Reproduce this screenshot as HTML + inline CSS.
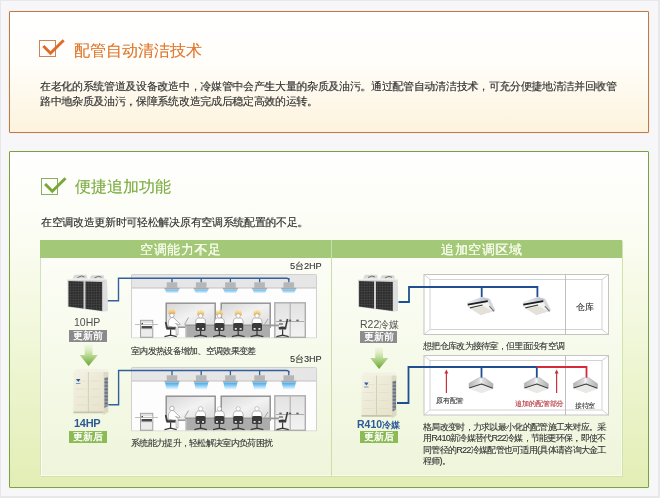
<!DOCTYPE html>
<html><head><meta charset="utf-8">
<style>
*{margin:0;padding:0;box-sizing:border-box}
html,body{width:660px;height:498px;overflow:hidden}
body{position:relative;background:#e8e8ea;font-family:"Liberation Sans",sans-serif;color:#444}
.abs{position:absolute}
#page{position:absolute;left:1px;top:1px;width:657px;height:495px;background:#f7f7f9}
#box1{position:absolute;left:9px;top:11px;width:640px;height:122px;border:1px solid #b47c5a;border-radius:1px;
 background:linear-gradient(#fff 0%,#fffefa 40%,#fdf3dd 100%);box-shadow:0 0 0 1px #fdf0d8}
#box2{position:absolute;left:9px;top:151px;width:640px;height:337px;border:1px solid #7d9c5c;border-radius:1px;
 background:linear-gradient(#fff 0%,#fbfdf3 25%,#e2eeb4 100%);box-shadow:0 0 0 1px #f2fcd8}
.t{position:absolute;white-space:nowrap;line-height:1;will-change:transform}
.title1{left:74px;top:42.8px;font-size:16px;color:#e07a32;text-shadow:0.3px 0 0 rgba(224,122,50,0.5)}
.title2{left:75.3px;top:179.3px;font-size:16px;color:#80b048;text-shadow:0.3px 0 0 rgba(128,176,72,0.5)}
.p{font-size:11px;letter-spacing:-0.32px;color:#3a3a3a;text-shadow:0.3px 0 0 rgba(58,58,58,0.6)}
.s{font-size:9px;letter-spacing:-0.7px;color:#3c3c3c;text-shadow:0.25px 0 0 rgba(60,60,60,0.5)}
#panel{position:absolute;left:40px;top:240px;width:582px;height:236px;border-left:1px solid #d4e0c4;border-right:1px solid #f6fde8;border-bottom:1px solid #f6fde8;box-shadow:1px 1px 0 #d2e2ae, inset 1px 0 0 #f8fff0;
 background:linear-gradient(#fdfef9 0%,#f6faea 50%,#eef5da 100%)}
#hdr{position:absolute;left:40px;top:240px;width:582px;height:18px;background:#a2c878}
#div{position:absolute;left:331px;top:240px;width:1px;height:236px;background:#c9dea8}
.ht{will-change:transform;position:absolute;top:241.5px;font-size:13px;letter-spacing:0.55px;color:#f8fcec;line-height:16px;white-space:nowrap;text-shadow:0.4px 0 0 #f8fcec}
.tag{will-change:transform;position:absolute;height:11.5px;font-size:10px;line-height:11.5px;text-shadow:0.2px 0 0 #fff;color:#fff;text-align:center;white-space:nowrap}
.hp{position:absolute;font-size:10px;line-height:1;white-space:nowrap}
</style></head><body>
<div id="page"></div>
<div id="box1"></div>
<div id="box2"></div>

<svg class="abs" style="left:0;top:0" width="660" height="498">
 <rect x="39.5" y="40.5" width="16" height="16" fill="none" stroke="#cc8458" stroke-width="1"/>
 <path d="M43.3 46 L50.5 53.2 L63.7 40.3" fill="none" stroke="#e06a28" stroke-width="3"/>
 <rect x="41.5" y="178.5" width="16" height="16" fill="none" stroke="#8cae62" stroke-width="1"/>
 <path d="M45.1 184 L52.3 191.2 L65.5 178.3" fill="none" stroke="#78a838" stroke-width="3"/>
</svg>

<div class="t title1">配管自动清洁技术</div>
<div class="t p" style="left:40px;top:81px">在老化的系统管道及设备改造中，冷媒管中会产生大量的杂质及油污。通过配管自动清洁技术，可充分便捷地清洁并回收管</div>
<div class="t p" style="left:40px;top:95.5px">路中地杂质及油污，保障系统改造完成后稳定高效的运转。</div>

<div class="t title2">便捷追加功能</div>
<div class="t p" style="left:41px;top:217px">在空调改造更新时可轻松解决原有空调系统配置的不足。</div>

<div id="panel"></div>
<div id="hdr"></div>
<div id="div"></div>
<div class="ht" style="left:140px">空调能力不足</div>
<div class="ht" style="left:441px">追加空调区域</div>

<svg class="abs" style="left:0;top:0" width="660" height="498">
<defs>
<linearGradient id="glowS" x1="0" y1="0" x2="0" y2="1"><stop offset="0" stop-color="#5ab4ec"/><stop offset="1" stop-color="#dff2fd"/></linearGradient>
<linearGradient id="glowB" x1="0" y1="0" x2="0" y2="1"><stop offset="0" stop-color="#3aa6ea"/><stop offset="1" stop-color="#f0f9ff"/></linearGradient>
<linearGradient id="heat" x1="0" y1="0" x2="0" y2="1"><stop offset="0" stop-color="#fbeab8" stop-opacity="0.4"/><stop offset="0.5" stop-color="#f7d488"/><stop offset="1" stop-color="#f0ac50"/></linearGradient>
<linearGradient id="glass" x1="0" y1="0" x2="1" y2="1"><stop offset="0" stop-color="#d6d6d6"/><stop offset="0.5" stop-color="#f2f2f2"/><stop offset="1" stop-color="#d9d9d9"/></linearGradient>
<linearGradient id="glass2" x1="0" y1="0" x2="0" y2="1"><stop offset="0" stop-color="#e2e2e2"/><stop offset="1" stop-color="#f3f3f3"/></linearGradient>
<linearGradient id="arr" x1="0" y1="0" x2="0" y2="1"><stop offset="0" stop-color="#e4f0cc" stop-opacity="0.3"/><stop offset="0.5" stop-color="#b8d890"/><stop offset="1" stop-color="#6aa632"/></linearGradient>
<pattern id="mesh" width="2.6" height="2.6" patternUnits="userSpaceOnUse"><rect width="2.6" height="2.6" fill="#2c2c2c"/><rect width="2.6" height="0.6" fill="#474747"/><rect width="0.6" height="2.6" fill="#474747"/></pattern>
<pattern id="vent" width="3" height="1.4" patternUnits="userSpaceOnUse"><rect width="3" height="1.4" fill="#9aa0aa"/><rect width="3" height="0.6" fill="#5a6272"/></pattern>
<linearGradient id="cbody" x1="0" y1="0" x2="1" y2="0"><stop offset="0" stop-color="#eef1f6"/><stop offset="1" stop-color="#b4bccb"/></linearGradient>
<linearGradient id="c2body" x1="0" y1="0" x2="1" y2="0"><stop offset="0" stop-color="#b4b4b4"/><stop offset="0.42" stop-color="#dcdcdc"/><stop offset="0.5" stop-color="#f6f8fb"/><stop offset="0.58" stop-color="#dcdcdc"/><stop offset="1" stop-color="#b0b0b0"/></linearGradient>
<linearGradient id="beige" x1="0" y1="0" x2="1" y2="1"><stop offset="0" stop-color="#f3f1e2"/><stop offset="1" stop-color="#e6e2cc"/></linearGradient>
<filter id="soft" x="-50%" y="-50%" width="200%" height="200%"><feGaussianBlur stdDeviation="0.35"/></filter>
<linearGradient id="grill" x1="0" y1="0" x2="1" y2="1"><stop offset="0" stop-color="#e6e6e0"/><stop offset="1" stop-color="#d2d2ca"/></linearGradient>
</defs>
<rect x="131" y="274" width="186" height="64" fill="#fdfdfd"/>
<rect x="131" y="274.5" width="185.5" height="13.5" fill="#e6e6e6"/>
<line x1="131" y1="288" x2="316.5" y2="288" stroke="#c2c2c2" stroke-width="1"/>
<path d="M131.5 338 V275 Q131.5 274.5 132.5 274.5 H315.5 Q316.5 274.5 316.5 275.5 V338" fill="none" stroke="#d0d0d0" stroke-width="1"/>
<line x1="131" y1="337.8" x2="317" y2="337.8" stroke="#dcdcdc" stroke-width="1"/>
<line x1="172" y1="278" x2="172" y2="282.5" stroke="#33609a" stroke-width="1.3"/>
<rect x="166.7" y="282.3" width="10.6" height="5.6" fill="#b6b6b6"/>
<rect x="164.5" y="287.8" width="15" height="1.6" fill="#a6aaae"/>
<path d="M165 289.4 H179 L177.5 293 H166.5 Z" fill="url(#glowS)"/>
<line x1="201.2" y1="278" x2="201.2" y2="282.5" stroke="#33609a" stroke-width="1.3"/>
<rect x="195.89999999999998" y="282.3" width="10.6" height="5.6" fill="#b6b6b6"/>
<rect x="193.7" y="287.8" width="15" height="1.6" fill="#a6aaae"/>
<path d="M194.2 289.4 H208.2 L206.7 293 H195.7 Z" fill="url(#glowS)"/>
<line x1="230.4" y1="278" x2="230.4" y2="282.5" stroke="#33609a" stroke-width="1.3"/>
<rect x="225.1" y="282.3" width="10.6" height="5.6" fill="#b6b6b6"/>
<rect x="222.9" y="287.8" width="15" height="1.6" fill="#a6aaae"/>
<path d="M223.4 289.4 H237.4 L235.9 293 H224.9 Z" fill="url(#glowS)"/>
<line x1="259.6" y1="278" x2="259.6" y2="282.5" stroke="#33609a" stroke-width="1.3"/>
<rect x="254.3" y="282.3" width="10.6" height="5.6" fill="#b6b6b6"/>
<rect x="252.10000000000002" y="287.8" width="15" height="1.6" fill="#a6aaae"/>
<path d="M252.60000000000002 289.4 H266.6 L265.1 293 H254.10000000000002 Z" fill="url(#glowS)"/>
<line x1="288.8" y1="278" x2="288.8" y2="282.5" stroke="#33609a" stroke-width="1.3"/>
<rect x="283.5" y="282.3" width="10.6" height="5.6" fill="#b6b6b6"/>
<rect x="281.3" y="287.8" width="15" height="1.6" fill="#a6aaae"/>
<path d="M281.8 289.4 H295.8 L294.3 293 H283.3 Z" fill="url(#glowS)"/>
<rect x="166.2" y="303.2" width="49" height="24" fill="url(#glass)" stroke="#8e8e8e" stroke-width="1.4"/>
<rect x="221.2" y="303.2" width="49" height="24" fill="url(#glass)" stroke="#8e8e8e" stroke-width="1.4"/>
<rect x="274.8" y="302.8" width="30.5" height="34.5" fill="url(#glass2)" stroke="#adadad" stroke-width="1.4"/>
<line x1="290.2" y1="302.8" x2="290.2" y2="337.3" stroke="#b4b4b4" stroke-width="1.2"/>
<line x1="276" y1="321.5" x2="304" y2="321.5" stroke="#9a9a9a" stroke-width="0.8"/>
<rect x="279.3" y="319.6" width="2.4" height="1.6" fill="#666"/>
<rect x="288.8" y="319.6" width="2.4" height="1.6" fill="#666"/>
<rect x="296.3" y="319.6" width="2.4" height="1.6" fill="#666"/>
<rect x="185" y="324.5" width="94" height="1.8" fill="#9a9a9a"/>
<rect x="185.5" y="326.3" width="84.5" height="11" fill="#acacac"/>
<rect x="185.5" y="326.3" width="1" height="11" fill="#c8c8c8"/>
<path d="M184.5 324.5 L188.5 317.5" stroke="#9a9a9a" stroke-width="0.9"/>
<path d="M264.5 324.5 L268 319" stroke="#9a9a9a" stroke-width="0.9"/>
<rect x="140.5" y="320.3" width="12.3" height="17" fill="#e2e2e2" stroke="#9c9c9c" stroke-width="0.9"/>
<rect x="141" y="323" width="11.3" height="5" fill="#fafafa"/>
<rect x="141.5" y="326" width="10.5" height="2.5" fill="#4a4a4a"/>
<rect x="141.5" y="323" width="1.5" height="2" fill="#4a4a4a"/>
<line x1="135" y1="324.5" x2="158" y2="324.5" stroke="#b0b0b0" stroke-width="0.8"/>
<rect x="141.5" y="330" width="10.3" height="6" fill="#ececec"/>
<path d="M168.60000000000002 314.0 Q168.10000000000002 310.5 169.4 307.3 Q169.9 309.0 170.60000000000002 310.0 Q171.10000000000002 312.0 170.8 314.0 Z" fill="url(#heat)" filter="url(#soft)"/>
<path d="M170.8 314.0 Q170.3 310.5 171.6 306.5 Q172.1 309.0 172.8 310.0 Q173.3 312.0 173.0 314.0 Z" fill="url(#heat)" filter="url(#soft)"/>
<path d="M173.0 314.0 Q172.5 310.5 173.79999999999998 307.1 Q174.29999999999998 309.0 175.0 310.0 Q175.5 312.0 175.2 314.0 Z" fill="url(#heat)" filter="url(#soft)"/>
<path d="M171 317.5 Q167.5 320 168 326 L173 327 L176 327 L176.3 335 L178 335 L178 325.5 L175.5 323.5 L180 324.8 L180 323.8 L174.8 319 Q173.8 317.5 173 317.5 Z" fill="#fff" stroke="#8c8c8c" stroke-width="0.6"/>
<circle cx="171.9" cy="315.4" r="2.2" fill="#fff" stroke="#8c8c8c" stroke-width="0.6"/>
<path d="M165.6 322 L167.4 329" stroke="#3a3a3a" stroke-width="1.6"/>
<rect x="166.5" y="327.3" width="9" height="2.3" fill="#3a3a3a"/>
<rect x="170" y="329.5" width="1.2" height="6" fill="#3a3a3a"/>
<path d="M164.5 336.6 L170.6 335.2 L176.7 336.6" fill="none" stroke="#3a3a3a" stroke-width="1.2"/>
<path d="M197.3 315.5 Q196.8 312 198.1 308.8 Q198.6 310.5 199.3 311.5 Q199.8 313.5 199.5 315.5 Z" fill="url(#heat)" filter="url(#soft)"/>
<path d="M199.5 315.5 Q199.0 312 200.29999999999998 308 Q200.79999999999998 310.5 201.5 311.5 Q202.0 313.5 201.7 315.5 Z" fill="url(#heat)" filter="url(#soft)"/>
<path d="M201.7 315.5 Q201.2 312 202.49999999999997 308.6 Q202.99999999999997 310.5 203.7 311.5 Q204.2 313.5 203.89999999999998 315.5 Z" fill="url(#heat)" filter="url(#soft)"/>
<path d="M195.6 324 Q195.4 318.4 198.4 318 H202.79999999999998 Q205.79999999999998 318.4 205.6 324 Z" fill="#fff" stroke="#8c8c8c" stroke-width="0.6"/>
<circle cx="200.6" cy="315.8" r="2.1" fill="#fff" stroke="#9a9a9a" stroke-width="0.5"/>
<rect x="195.6" y="323" width="10" height="8" rx="1.6" fill="#3a3a3a"/>
<rect x="197.2" y="328" width="2" height="1.7" fill="#e4e4e4"/>
<rect x="202.0" y="328" width="2" height="1.7" fill="#e4e4e4"/>
<rect x="200.0" y="331" width="1.2" height="4.6" fill="#3a3a3a"/>
<path d="M194.29999999999998 336.6 L200.6 335.2 L206.9 336.6" fill="none" stroke="#3a3a3a" stroke-width="1.2"/>
<path d="M216.10000000000002 315.5 Q215.60000000000002 312 216.9 308.8 Q217.4 310.5 218.10000000000002 311.5 Q218.60000000000002 313.5 218.3 315.5 Z" fill="url(#heat)" filter="url(#soft)"/>
<path d="M218.3 315.5 Q217.8 312 219.1 308 Q219.6 310.5 220.3 311.5 Q220.8 313.5 220.5 315.5 Z" fill="url(#heat)" filter="url(#soft)"/>
<path d="M220.5 315.5 Q220.0 312 221.29999999999998 308.6 Q221.79999999999998 310.5 222.5 311.5 Q223.0 313.5 222.7 315.5 Z" fill="url(#heat)" filter="url(#soft)"/>
<path d="M214.4 324 Q214.20000000000002 318.4 217.20000000000002 318 H221.6 Q224.6 318.4 224.4 324 Z" fill="#fff" stroke="#8c8c8c" stroke-width="0.6"/>
<circle cx="219.4" cy="315.8" r="2.1" fill="#fff" stroke="#9a9a9a" stroke-width="0.5"/>
<rect x="214.4" y="323" width="10" height="8" rx="1.6" fill="#3a3a3a"/>
<rect x="216.0" y="328" width="2" height="1.7" fill="#e4e4e4"/>
<rect x="220.8" y="328" width="2" height="1.7" fill="#e4e4e4"/>
<rect x="218.8" y="331" width="1.2" height="4.6" fill="#3a3a3a"/>
<path d="M213.1 336.6 L219.4 335.2 L225.70000000000002 336.6" fill="none" stroke="#3a3a3a" stroke-width="1.2"/>
<path d="M234.9 315.5 Q234.4 312 235.7 308.8 Q236.2 310.5 236.9 311.5 Q237.4 313.5 237.1 315.5 Z" fill="url(#heat)" filter="url(#soft)"/>
<path d="M237.1 315.5 Q236.6 312 237.89999999999998 308 Q238.39999999999998 310.5 239.1 311.5 Q239.6 313.5 239.29999999999998 315.5 Z" fill="url(#heat)" filter="url(#soft)"/>
<path d="M239.29999999999998 315.5 Q238.79999999999998 312 240.09999999999997 308.6 Q240.59999999999997 310.5 241.29999999999998 311.5 Q241.79999999999998 313.5 241.49999999999997 315.5 Z" fill="url(#heat)" filter="url(#soft)"/>
<path d="M233.2 324 Q233.0 318.4 236.0 318 H240.39999999999998 Q243.39999999999998 318.4 243.2 324 Z" fill="#fff" stroke="#8c8c8c" stroke-width="0.6"/>
<circle cx="238.2" cy="315.8" r="2.1" fill="#fff" stroke="#9a9a9a" stroke-width="0.5"/>
<rect x="233.2" y="323" width="10" height="8" rx="1.6" fill="#3a3a3a"/>
<rect x="234.79999999999998" y="328" width="2" height="1.7" fill="#e4e4e4"/>
<rect x="239.6" y="328" width="2" height="1.7" fill="#e4e4e4"/>
<rect x="237.6" y="331" width="1.2" height="4.6" fill="#3a3a3a"/>
<path d="M231.89999999999998 336.6 L238.2 335.2 L244.5 336.6" fill="none" stroke="#3a3a3a" stroke-width="1.2"/>
<path d="M253.70000000000002 315.5 Q253.20000000000002 312 254.5 308.8 Q255.0 310.5 255.70000000000002 311.5 Q256.2 313.5 255.9 315.5 Z" fill="url(#heat)" filter="url(#soft)"/>
<path d="M255.9 315.5 Q255.4 312 256.7 308 Q257.2 310.5 257.9 311.5 Q258.4 313.5 258.1 315.5 Z" fill="url(#heat)" filter="url(#soft)"/>
<path d="M258.09999999999997 315.5 Q257.59999999999997 312 258.9 308.6 Q259.4 310.5 260.09999999999997 311.5 Q260.59999999999997 313.5 260.3 315.5 Z" fill="url(#heat)" filter="url(#soft)"/>
<path d="M252 324 Q251.8 318.4 254.8 318 H259.2 Q262.2 318.4 262 324 Z" fill="#fff" stroke="#8c8c8c" stroke-width="0.6"/>
<circle cx="257" cy="315.8" r="2.1" fill="#fff" stroke="#9a9a9a" stroke-width="0.5"/>
<rect x="252" y="323" width="10" height="8" rx="1.6" fill="#3a3a3a"/>
<rect x="253.6" y="328" width="2" height="1.7" fill="#e4e4e4"/>
<rect x="258.4" y="328" width="2" height="1.7" fill="#e4e4e4"/>
<rect x="256.4" y="331" width="1.2" height="4.6" fill="#3a3a3a"/>
<path d="M250.7 336.6 L257 335.2 L263.3 336.6" fill="none" stroke="#3a3a3a" stroke-width="1.2"/>
<path d="M287.5 319 L285.6 327.5" stroke="#3a3a3a" stroke-width="1.5"/>
<path d="M278.5 327.2 Q283 325.5 286.5 327.5 L286 329.6 L279 329.6 Z" fill="#3a3a3a"/>
<rect x="282" y="329.5" width="1.2" height="6" fill="#3a3a3a"/>
<path d="M276.5 336.6 L282.6 335.2 L288.7 336.6" fill="none" stroke="#3a3a3a" stroke-width="1.2"/>
<path d="M279 324 L283 324" stroke="#3a3a3a" stroke-width="1"/>
<rect x="131" y="367" width="186" height="64" fill="#fdfdfd"/>
<rect x="131" y="367.5" width="185.5" height="13.5" fill="#e6e6e6"/>
<line x1="131" y1="381" x2="316.5" y2="381" stroke="#c2c2c2" stroke-width="1"/>
<path d="M131.5 431 V368 Q131.5 367.5 132.5 367.5 H315.5 Q316.5 367.5 316.5 368.5 V431" fill="none" stroke="#d0d0d0" stroke-width="1"/>
<line x1="131" y1="430.8" x2="317" y2="430.8" stroke="#dcdcdc" stroke-width="1"/>
<line x1="172" y1="371" x2="172" y2="375.5" stroke="#33609a" stroke-width="1.3"/>
<rect x="166.7" y="375.3" width="10.6" height="5.6" fill="#b6b6b6"/>
<rect x="164.5" y="380.8" width="15" height="1.6" fill="#a6aaae"/>
<path d="M165 382.4 H179 L177.5 389.5 H166.5 Z" fill="url(#glowB)"/>
<line x1="201.2" y1="371" x2="201.2" y2="375.5" stroke="#33609a" stroke-width="1.3"/>
<rect x="195.89999999999998" y="375.3" width="10.6" height="5.6" fill="#b6b6b6"/>
<rect x="193.7" y="380.8" width="15" height="1.6" fill="#a6aaae"/>
<path d="M194.2 382.4 H208.2 L206.7 389.5 H195.7 Z" fill="url(#glowB)"/>
<line x1="230.4" y1="371" x2="230.4" y2="375.5" stroke="#33609a" stroke-width="1.3"/>
<rect x="225.1" y="375.3" width="10.6" height="5.6" fill="#b6b6b6"/>
<rect x="222.9" y="380.8" width="15" height="1.6" fill="#a6aaae"/>
<path d="M223.4 382.4 H237.4 L235.9 389.5 H224.9 Z" fill="url(#glowB)"/>
<line x1="259.6" y1="371" x2="259.6" y2="375.5" stroke="#33609a" stroke-width="1.3"/>
<rect x="254.3" y="375.3" width="10.6" height="5.6" fill="#b6b6b6"/>
<rect x="252.10000000000002" y="380.8" width="15" height="1.6" fill="#a6aaae"/>
<path d="M252.60000000000002 382.4 H266.6 L265.1 389.5 H254.10000000000002 Z" fill="url(#glowB)"/>
<line x1="288.8" y1="371" x2="288.8" y2="375.5" stroke="#33609a" stroke-width="1.3"/>
<rect x="283.5" y="375.3" width="10.6" height="5.6" fill="#b6b6b6"/>
<rect x="281.3" y="380.8" width="15" height="1.6" fill="#a6aaae"/>
<path d="M281.8 382.4 H295.8 L294.3 389.5 H283.3 Z" fill="url(#glowB)"/>
<rect x="166.2" y="396.2" width="49" height="24" fill="url(#glass)" stroke="#8e8e8e" stroke-width="1.4"/>
<rect x="221.2" y="396.2" width="49" height="24" fill="url(#glass)" stroke="#8e8e8e" stroke-width="1.4"/>
<rect x="274.8" y="395.8" width="30.5" height="34.5" fill="url(#glass2)" stroke="#adadad" stroke-width="1.4"/>
<line x1="290.2" y1="395.8" x2="290.2" y2="430.3" stroke="#b4b4b4" stroke-width="1.2"/>
<line x1="276" y1="414.5" x2="304" y2="414.5" stroke="#9a9a9a" stroke-width="0.8"/>
<rect x="279.3" y="412.6" width="2.4" height="1.6" fill="#666"/>
<rect x="288.8" y="412.6" width="2.4" height="1.6" fill="#666"/>
<rect x="296.3" y="412.6" width="2.4" height="1.6" fill="#666"/>
<rect x="185" y="417.5" width="94" height="1.8" fill="#9a9a9a"/>
<rect x="185.5" y="419.3" width="84.5" height="11" fill="#acacac"/>
<rect x="185.5" y="419.3" width="1" height="11" fill="#c8c8c8"/>
<path d="M184.5 417.5 L188.5 410.5" stroke="#9a9a9a" stroke-width="0.9"/>
<path d="M264.5 417.5 L268 412" stroke="#9a9a9a" stroke-width="0.9"/>
<rect x="140.5" y="413.3" width="12.3" height="17" fill="#e2e2e2" stroke="#9c9c9c" stroke-width="0.9"/>
<rect x="141" y="416" width="11.3" height="5" fill="#fafafa"/>
<rect x="141.5" y="419" width="10.5" height="2.5" fill="#4a4a4a"/>
<rect x="141.5" y="416" width="1.5" height="2" fill="#4a4a4a"/>
<line x1="135" y1="417.5" x2="158" y2="417.5" stroke="#b0b0b0" stroke-width="0.8"/>
<rect x="141.5" y="423" width="10.3" height="6" fill="#ececec"/>
<path d="M171 410.5 Q167.5 413 168 419 L173 420 L176 420 L176.3 428 L178 428 L178 418.5 L175.5 416.5 L180 417.8 L180 416.8 L174.8 412 Q173.8 410.5 173 410.5 Z" fill="#fff" stroke="#8c8c8c" stroke-width="0.6"/>
<circle cx="171.9" cy="408.4" r="2.2" fill="#fff" stroke="#8c8c8c" stroke-width="0.6"/>
<path d="M165.6 415 L167.4 422" stroke="#3a3a3a" stroke-width="1.6"/>
<rect x="166.5" y="420.3" width="9" height="2.3" fill="#3a3a3a"/>
<rect x="170" y="422.5" width="1.2" height="6" fill="#3a3a3a"/>
<path d="M164.5 429.6 L170.6 428.2 L176.7 429.6" fill="none" stroke="#3a3a3a" stroke-width="1.2"/>
<path d="M195.6 417 Q195.4 411.4 198.4 411 H202.79999999999998 Q205.79999999999998 411.4 205.6 417 Z" fill="#fff" stroke="#8c8c8c" stroke-width="0.6"/>
<circle cx="200.6" cy="408.8" r="2.1" fill="#fff" stroke="#9a9a9a" stroke-width="0.5"/>
<rect x="195.6" y="416" width="10" height="8" rx="1.6" fill="#3a3a3a"/>
<rect x="197.2" y="421" width="2" height="1.7" fill="#e4e4e4"/>
<rect x="202.0" y="421" width="2" height="1.7" fill="#e4e4e4"/>
<rect x="200.0" y="424" width="1.2" height="4.6" fill="#3a3a3a"/>
<path d="M194.29999999999998 429.6 L200.6 428.2 L206.9 429.6" fill="none" stroke="#3a3a3a" stroke-width="1.2"/>
<path d="M214.4 417 Q214.20000000000002 411.4 217.20000000000002 411 H221.6 Q224.6 411.4 224.4 417 Z" fill="#fff" stroke="#8c8c8c" stroke-width="0.6"/>
<circle cx="219.4" cy="408.8" r="2.1" fill="#fff" stroke="#9a9a9a" stroke-width="0.5"/>
<rect x="214.4" y="416" width="10" height="8" rx="1.6" fill="#3a3a3a"/>
<rect x="216.0" y="421" width="2" height="1.7" fill="#e4e4e4"/>
<rect x="220.8" y="421" width="2" height="1.7" fill="#e4e4e4"/>
<rect x="218.8" y="424" width="1.2" height="4.6" fill="#3a3a3a"/>
<path d="M213.1 429.6 L219.4 428.2 L225.70000000000002 429.6" fill="none" stroke="#3a3a3a" stroke-width="1.2"/>
<path d="M233.2 417 Q233.0 411.4 236.0 411 H240.39999999999998 Q243.39999999999998 411.4 243.2 417 Z" fill="#fff" stroke="#8c8c8c" stroke-width="0.6"/>
<circle cx="238.2" cy="408.8" r="2.1" fill="#fff" stroke="#9a9a9a" stroke-width="0.5"/>
<rect x="233.2" y="416" width="10" height="8" rx="1.6" fill="#3a3a3a"/>
<rect x="234.79999999999998" y="421" width="2" height="1.7" fill="#e4e4e4"/>
<rect x="239.6" y="421" width="2" height="1.7" fill="#e4e4e4"/>
<rect x="237.6" y="424" width="1.2" height="4.6" fill="#3a3a3a"/>
<path d="M231.89999999999998 429.6 L238.2 428.2 L244.5 429.6" fill="none" stroke="#3a3a3a" stroke-width="1.2"/>
<path d="M252 417 Q251.8 411.4 254.8 411 H259.2 Q262.2 411.4 262 417 Z" fill="#fff" stroke="#8c8c8c" stroke-width="0.6"/>
<circle cx="257" cy="408.8" r="2.1" fill="#fff" stroke="#9a9a9a" stroke-width="0.5"/>
<rect x="252" y="416" width="10" height="8" rx="1.6" fill="#3a3a3a"/>
<rect x="253.6" y="421" width="2" height="1.7" fill="#e4e4e4"/>
<rect x="258.4" y="421" width="2" height="1.7" fill="#e4e4e4"/>
<rect x="256.4" y="424" width="1.2" height="4.6" fill="#3a3a3a"/>
<path d="M250.7 429.6 L257 428.2 L263.3 429.6" fill="none" stroke="#3a3a3a" stroke-width="1.2"/>
<path d="M287.5 412 L285.6 420.5" stroke="#3a3a3a" stroke-width="1.5"/>
<path d="M278.5 420.2 Q283 418.5 286.5 420.5 L286 422.6 L279 422.6 Z" fill="#3a3a3a"/>
<rect x="282" y="422.5" width="1.2" height="6" fill="#3a3a3a"/>
<path d="M276.5 429.6 L282.6 428.2 L288.7 429.6" fill="none" stroke="#3a3a3a" stroke-width="1.2"/>
<path d="M279 417 L283 417" stroke="#3a3a3a" stroke-width="1"/>
<path d="M107.5 300.7 H118.5 V278.3 H286.8 Q288.8 278.3 288.8 280.3" fill="none" stroke="#33609a" stroke-width="1.4"/>
<path d="M108 404.8 H118.6 V370.5 H286.8 Q288.8 370.5 288.8 372.5" fill="none" stroke="#33609a" stroke-width="1.4"/>
<path d="M72.5 278.5 L74.5 274.8 H86.5 L87.5 278.5 Z" fill="#d8d8d8"/>
<path d="M89.5 278.5 L91.5 275.2 H103.5 L104.5 278.5 Z" fill="#d8d8d8"/>
<path d="M77.5 277.5 L81.5 276 L84.5 277" stroke="#555" stroke-width="0.8" fill="none"/>
<path d="M94.5 277.8 L98.5 276.3 L101.5 277.3" stroke="#555" stroke-width="0.8" fill="none"/>
<path d="M67.5 279 L107.0 279.5 L107.5 311 L102.5 311.5 L67.7 307 Z" fill="#cfcfcf"/>
<path d="M67.5 279 L107.0 279.5 L107.0 280.5 L67.5 280 Z" fill="#f0f0f0"/>
<path d="M68.5 281 L83.5 281.5 L83.5 308.5 L68.5 306.5 Z" fill="url(#mesh)"/>
<path d="M85.5 281.5 L102.3 282 L102.3 311 L85.5 308.8 Z" fill="url(#mesh)"/>
<path d="M102.5 282 L107.0 281 L107.5 310.5 L102.5 311.2 Z" fill="#dedede"/>
<path d="M73.4 372 L76.4 369 H107.4 L108.4 372 Z" fill="#f2f1e4"/>
<rect x="73.4" y="372" width="30" height="40.5" fill="url(#beige)"/>
<path d="M103.4 372 L108.4 372 L108.4 412 L103.4 415 Z" fill="#dcd9c2"/>
<path d="M104.4 378 L107.9 377 L107.9 406 L104.4 408 Z" fill="url(#vent)"/>
<line x1="88.4" y1="372" x2="88.4" y2="412.5" stroke="#cdc9ae" stroke-width="0.8"/>
<line x1="75.4" y1="381" x2="86.4" y2="381" stroke="#e0dcc4" stroke-width="0.6"/>
<line x1="90.4" y1="381" x2="101.4" y2="381" stroke="#e0dcc4" stroke-width="0.6"/>
<line x1="75.4" y1="389" x2="86.4" y2="389" stroke="#e0dcc4" stroke-width="0.6"/>
<line x1="90.4" y1="389" x2="101.4" y2="389" stroke="#e0dcc4" stroke-width="0.6"/>
<line x1="75.4" y1="397" x2="86.4" y2="397" stroke="#e0dcc4" stroke-width="0.6"/>
<line x1="90.4" y1="397" x2="101.4" y2="397" stroke="#e0dcc4" stroke-width="0.6"/>
<line x1="75.4" y1="405" x2="86.4" y2="405" stroke="#e0dcc4" stroke-width="0.6"/>
<line x1="90.4" y1="405" x2="101.4" y2="405" stroke="#e0dcc4" stroke-width="0.6"/>
<rect x="73.4" y="411.5" width="30" height="1.8" fill="#c8c4aa"/>
<path d="M75.9 379 L78.4 382 L80.4 379 Z" fill="#2a5a9a"/>
<rect x="75.9" y="383" width="4.5" height="1" fill="#7a9ac0"/>
<path d="M84.7 344.5 H92.5 V355.0 H97.8 L88.6 366.0 L79.7 355.0 H84.7 Z" fill="url(#arr)"/>
<path d="M375.2 347.5 H383 V358.0 H388.3 L379.1 369.0 L370.2 358.0 H375.2 Z" fill="url(#arr)"/>
<rect x="424" y="274.5" width="184.5" height="60" fill="#fff" stroke="#c4c4c4" stroke-width="1"/>
<rect x="430" y="279.5" width="172" height="50" fill="#fff" stroke="#cfcfcf" stroke-width="0.9"/>
<path d="M424 274.5 L430 279.5 M608.5 274.5 L602 279.5 M424 334.5 L430 329.5 M608.5 334.5 L602 329.5" stroke="#c8c8c8" stroke-width="0.8"/>
<line x1="565.5" y1="274.5" x2="565.5" y2="334.5" stroke="#b8b8b8" stroke-width="0.9"/>
<rect x="424" y="355.5" width="184.5" height="59.5" fill="#fff" stroke="#c4c4c4" stroke-width="1"/>
<rect x="430" y="360.5" width="172" height="49.5" fill="#fff" stroke="#cfcfcf" stroke-width="0.9"/>
<path d="M424 355.5 L430 360.5 M608.5 355.5 L602 360.5 M424 415.0 L430 410.0 M608.5 415.0 L602 410.0" stroke="#c8c8c8" stroke-width="0.8"/>
<line x1="565.5" y1="355.5" x2="565.5" y2="415.0" stroke="#b8b8b8" stroke-width="0.9"/>
<path d="M398.5 302 H409 V287 H537.4 V297" fill="none" stroke="#1f4f92" stroke-width="1.8"/>
<line x1="481.7" y1="287" x2="481.7" y2="297" stroke="#1f4f92" stroke-width="1.8"/>
<path d="M467.8 302.6 L482.3 297.3 L489.6 299.3 L495 310.2 L480.8 314.6 L467.8 306 Z" fill="#f4f4f2" stroke="#b8b8b8" stroke-width="0.5"/>
<path d="M467.8 302.6 L482.3 297.3 L489.6 299.3 L487.5 301.1 L467.8 304.4 Z" fill="url(#cbody)"/>
<path d="M487.5 301.1 L489.6 299.3 L495 310.2 L493 311.5 Z" fill="#d4d8de"/>
<path d="M467.8 304.6 L487.8 301.1" stroke="#1c1c1c" stroke-width="1.6"/>
<path d="M469.9 307.8 L482.6 305" stroke="#3a3a3a" stroke-width="1.2"/>
<path d="M471 309 L483.2 306 L492.9 311.4 L480.2 314.4 Z" fill="#e4e2d8"/>
<path d="M489.3 306.2 L494.1 311.4" stroke="#707070" stroke-width="1.1"/>
<path d="M523.3 302.6 L537.8 297.3 L545.1 299.3 L550.5 310.2 L536.3 314.6 L523.3 306 Z" fill="#f4f4f2" stroke="#b8b8b8" stroke-width="0.5"/>
<path d="M523.3 302.6 L537.8 297.3 L545.1 299.3 L543.0 301.1 L523.3 304.4 Z" fill="url(#cbody)"/>
<path d="M543.0 301.1 L545.1 299.3 L550.5 310.2 L548.5 311.5 Z" fill="#d4d8de"/>
<path d="M523.3 304.6 L543.3 301.1" stroke="#1c1c1c" stroke-width="1.6"/>
<path d="M525.4 307.8 L538.1 305" stroke="#3a3a3a" stroke-width="1.2"/>
<path d="M526.5 309 L538.7 306 L548.4 311.4 L535.7 314.4 Z" fill="#e4e2d8"/>
<path d="M544.8 306.2 L549.6 311.4" stroke="#707070" stroke-width="1.1"/>
<path d="M363 278.5 L365 274.8 H377 L378 278.5 Z" fill="#d8d8d8"/>
<path d="M380 278.5 L382 275.2 H394 L395 278.5 Z" fill="#d8d8d8"/>
<path d="M368 277.5 L372 276 L375 277" stroke="#555" stroke-width="0.8" fill="none"/>
<path d="M385 277.8 L389 276.3 L392 277.3" stroke="#555" stroke-width="0.8" fill="none"/>
<path d="M358 279 L397.5 279.5 L398 311 L393 311.5 L358.2 307 Z" fill="#cfcfcf"/>
<path d="M358 279 L397.5 279.5 L397.5 280.5 L358 280 Z" fill="#f0f0f0"/>
<path d="M359 281 L374 281.5 L374 308.5 L359 306.5 Z" fill="url(#mesh)"/>
<path d="M376 281.5 L392.8 282 L392.8 311 L376 308.8 Z" fill="url(#mesh)"/>
<path d="M393 282 L397.5 281 L398 310.5 L393 311.2 Z" fill="#dedede"/>
<path d="M361.5 375.5 L364.5 372.5 H395.5 L396.5 375.5 Z" fill="#f2f1e4"/>
<rect x="361.5" y="375.5" width="30" height="40.5" fill="url(#beige)"/>
<path d="M391.5 375.5 L396.5 375.5 L396.5 415.5 L391.5 418.5 Z" fill="#dcd9c2"/>
<path d="M392.5 381.5 L396.0 380.5 L396.0 409.5 L392.5 411.5 Z" fill="url(#vent)"/>
<line x1="376.5" y1="375.5" x2="376.5" y2="416.0" stroke="#cdc9ae" stroke-width="0.8"/>
<line x1="363.5" y1="384.5" x2="374.5" y2="384.5" stroke="#e0dcc4" stroke-width="0.6"/>
<line x1="378.5" y1="384.5" x2="389.5" y2="384.5" stroke="#e0dcc4" stroke-width="0.6"/>
<line x1="363.5" y1="392.5" x2="374.5" y2="392.5" stroke="#e0dcc4" stroke-width="0.6"/>
<line x1="378.5" y1="392.5" x2="389.5" y2="392.5" stroke="#e0dcc4" stroke-width="0.6"/>
<line x1="363.5" y1="400.5" x2="374.5" y2="400.5" stroke="#e0dcc4" stroke-width="0.6"/>
<line x1="378.5" y1="400.5" x2="389.5" y2="400.5" stroke="#e0dcc4" stroke-width="0.6"/>
<line x1="363.5" y1="408.5" x2="374.5" y2="408.5" stroke="#e0dcc4" stroke-width="0.6"/>
<line x1="378.5" y1="408.5" x2="389.5" y2="408.5" stroke="#e0dcc4" stroke-width="0.6"/>
<rect x="361.5" y="415.0" width="30" height="1.8" fill="#c8c4aa"/>
<path d="M364.0 382.5 L366.5 385.5 L368.5 382.5 Z" fill="#2a5a9a"/>
<rect x="364.0" y="386.5" width="4.5" height="1" fill="#7a9ac0"/>
<path d="M397 403 H408.5 V367 H536.8 V378" fill="none" stroke="#1f4f92" stroke-width="1.8"/>
<line x1="481.5" y1="367" x2="481.5" y2="378" stroke="#1f4f92" stroke-width="1.8"/>
<path d="M536.8 367 H586.5 V378" fill="none" stroke="#d42a3a" stroke-width="1.8"/>
<path d="M469.5 388.8 L481.5 384.8 L493.0 389.1 L481.5 393.3 Z" fill="#e9e9e7"/>
<path d="M469.0 383.3 L479.0 377.8 L484.5 377.8 L493.0 383.8 L493.0 388.1 L481.5 383.8 L469.0 387.8 Z" fill="url(#c2body)" stroke="#a8a8a8" stroke-width="0.5"/>
<path d="M469.2 388.0 L481.5 384.0 L492.8 388.3" fill="none" stroke="#3c3c3c" stroke-width="1.1"/>
<path d="M524.8 388.8 L536.8 384.8 L548.3 389.1 L536.8 393.3 Z" fill="#e9e9e7"/>
<path d="M524.3 383.3 L534.3 377.8 L539.8 377.8 L548.3 383.8 L548.3 388.1 L536.8 383.8 L524.3 387.8 Z" fill="url(#c2body)" stroke="#a8a8a8" stroke-width="0.5"/>
<path d="M524.5 388.0 L536.8 384.0 L548.0999999999999 388.3" fill="none" stroke="#3c3c3c" stroke-width="1.1"/>
<path d="M574 388.8 L586 384.8 L597.5 389.1 L586 393.3 Z" fill="#e9e9e7"/>
<path d="M573.5 383.3 L583.5 377.8 L589 377.8 L597.5 383.8 L597.5 388.1 L586 383.8 L573.5 387.8 Z" fill="url(#c2body)" stroke="#a8a8a8" stroke-width="0.5"/>
<path d="M573.7 388.0 L586 384.0 L597.3 388.3" fill="none" stroke="#3c3c3c" stroke-width="1.1"/>
<line x1="446.4" y1="372" x2="446.4" y2="393" stroke="#c8323c" stroke-width="1.2"/>
<path d="M444.4 373.5 L446.4 369.5 L448.4 373.5 Z" fill="#c8323c"/>
<line x1="556.6" y1="372" x2="556.6" y2="393" stroke="#c8323c" stroke-width="1.2"/>
<path d="M554.6 373.5 L556.6 369.5 L558.6 373.5 Z" fill="#c8323c"/>
</svg>

<div class="t hp" style="left:74px;top:317.2px;font-size:10.5px;color:#505050">10HP</div>
<div class="tag" style="left:68.5px;top:330.3px;width:37.5px;background:#8a8a8a">更新前</div>
<div class="t hp" style="left:74px;top:418.3px;font-size:11px;letter-spacing:-0.3px;color:#2b5b96;font-weight:bold">14HP</div>
<div class="tag" style="left:68.5px;top:431px;width:37.5px;background:#8cbb55">更新后</div>
<div class="t hp" style="left:360px;top:319.3px;font-size:10.5px;color:#505050">R22<span style="font-size:9.5px;letter-spacing:-0.3px">冷媒</span></div>
<div class="tag" style="left:359.5px;top:330.5px;width:37px;background:#8c8c8c">更新前</div>
<div class="t hp" style="left:357px;top:419.3px;font-size:10.5px;color:#2b5b96;font-weight:bold">R410<span style="font-size:9px;letter-spacing:-0.3px">冷媒</span></div>
<div class="tag" style="left:359.5px;top:431px;width:37.5px;background:#8cbb55">更新后</div>

<div class="t s" style="left:290px;top:262px;font-size:9px;letter-spacing:0">5台2HP</div>
<div class="t s" style="left:290px;top:355px;font-size:9px;letter-spacing:0">5台3HP</div>
<div class="t s" style="left:131px;top:346.5px">室内发热设备增加、空调效果变差</div>
<div class="t s" style="left:131px;top:439px">系统能力提升，轻松解决室内负荷困扰</div>
<div class="t s" style="left:576px;top:303px;font-size:9px;letter-spacing:0">仓库</div>
<div class="t s" style="left:423px;top:342px">想把仓库改为接待室，但里面没有空调</div>
<div class="t s" style="left:436px;top:397px;font-size:7px;letter-spacing:-0.25px">原有配管</div>
<div class="t s" style="left:514.5px;top:399.5px;font-size:7px;letter-spacing:-0.1px;color:#d22a36">追加的配管部分</div>
<div class="t s" style="left:574.5px;top:402px;font-size:7px;letter-spacing:-0.4px">接待室</div>
<div class="t s" style="left:423px;top:422.5px">格局改变时，力求以最小化的配管施工来对应。采</div>
<div class="t s" style="left:423px;top:434.1px">用R410新冷媒替代R22冷媒，节能更环保，即使不</div>
<div class="t s" style="left:423px;top:445.7px">同管径的R22冷媒配管也可适用(具体请咨询大金工</div>
<div class="t s" style="left:423px;top:457.3px">程师)。</div>
</body></html>
